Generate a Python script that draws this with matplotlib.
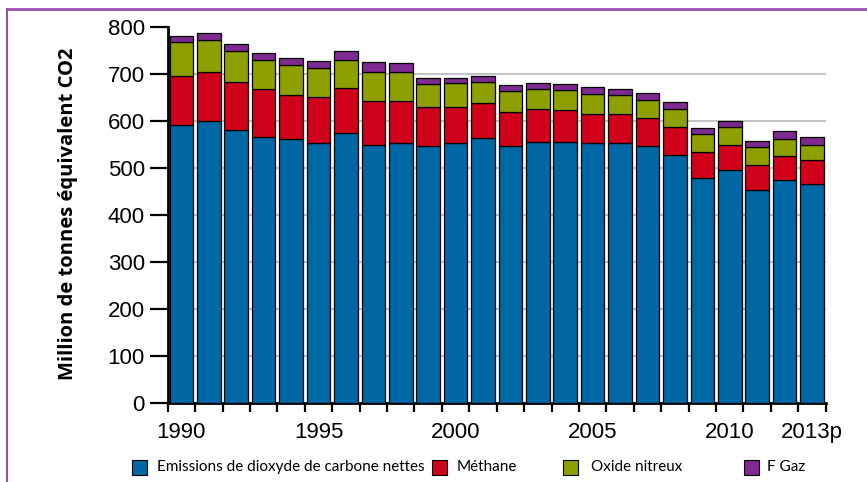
import numpy as np
import matplotlib
matplotlib.use("Agg")
import matplotlib.pyplot as plt
from matplotlib.patches import Rectangle
from matplotlib.lines import Line2D

years = list(range(1990, 2014))
co2 = [591, 599, 581, 566, 561, 553, 574, 549, 553, 547, 553, 563,
       547, 556, 556, 553, 553, 546, 528, 478, 496, 454, 475, 466]
methane = [105, 105, 102, 101, 94, 97, 96, 94, 90, 82, 76, 75,
           72, 69, 66, 61, 61, 59, 59, 56, 53, 52, 51, 50]
n2o = [71, 67, 65, 61, 64, 61, 58, 60, 60, 49, 51, 45,
       44, 43, 43, 43, 41, 39, 38, 37, 38, 38, 36, 33]
fgas = [12, 16, 14, 16, 14, 15, 21, 21, 19, 13, 11, 13,
        13, 13, 14, 14, 13, 14, 14, 14, 13, 13, 16, 16]
series_names = ["Emissions de dioxyde de carbone nettes", "Méthane",
                "Oxide nitreux", "F Gaz"]
colors = ["#0067A5", "#D0021B", "#8EA000", "#7E2A90"]
label_years = [1990, 1995, 2000, 2005, 2010, 2013]
label_text = ["1990", "1995", "2000", "2005", "2010", "2013p"]

fig = plt.figure(figsize=(8.67, 4.82), dpi=100)
ax = fig.add_axes([0.1934, 0.1629, 0.759, 0.782])

x = np.arange(len(years))
bottom = np.zeros(len(years))
for vals, c in zip([co2, methane, n2o, fgas], colors):
    ax.bar(x, vals, width=0.86, bottom=bottom, color=c, edgecolor="black",
           linewidth=0.9, zorder=3)
    bottom += np.array(vals)

ax.set_xlim(-0.5, len(years) - 0.5)
ax.set_ylim(0, 800)
ax.set_yticks(np.arange(0, 801, 100))
for v in range(100, 800, 100):
    ax.axhline(v, color="#c4c4c4", linewidth=1.5, zorder=1)

tick_font = dict(family=["Liberation Sans", "DejaVu Sans"], size=16)
ax.set_yticklabels([str(v) for v in range(0, 801, 100)], **tick_font)
ax.tick_params(axis="y", length=13, width=1.6, pad=3.5, color="black")

ax.set_xticks(np.arange(-0.5, len(years), 1))
ax.set_xticklabels([])
ax.tick_params(axis="x", which="major", length=6.5, width=1.6)
ax.set_xticks([years.index(y) for y in label_years], minor=True)
ax.set_xticklabels(label_text, minor=True, **tick_font)
ax.tick_params(axis="x", which="minor", length=0, pad=13)

for s in ["top", "right"]:
    ax.spines[s].set_visible(False)
for s in ["left", "bottom"]:
    ax.spines[s].set_linewidth(2)

fig.text(68 / 867, 0.556, "Million de tonnes équivalent CO2", rotation=90,
         ha="center", va="center", fontsize=14.5, fontweight="bold",
         family=["Open Sans", "DejaVu Sans"])

# legend drawn by hand to follow the uneven spacing
sq_x = [132, 432, 563, 744]
txt_x = [157, 457, 591, 767]
for name, c, sx, tx in zip(series_names, colors, sq_x, txt_x):
    fig.patches.append(Rectangle((sx / 867, 1 - 475 / 482), 15 / 867, 15 / 482,
                                 transform=fig.transFigure, facecolor=c,
                                 edgecolor="black", linewidth=0.8))
    fig.text(tx / 867, 1 - 467 / 482, name, ha="left", va="center",
             fontsize=11, family=["Lato", "DejaVu Sans"])

# thin purple frame on top and left
fig.add_artist(Line2D([7 / 867, 1], [1 - 9 / 482, 1 - 9 / 482],
                      transform=fig.transFigure, color="#9B4DB5", linewidth=2))
fig.add_artist(Line2D([7 / 867, 7 / 867], [0, 1 - 9 / 482],
                      transform=fig.transFigure, color="#9B4DB5", linewidth=1.5))

fig.savefig("out.png", dpi=100)
